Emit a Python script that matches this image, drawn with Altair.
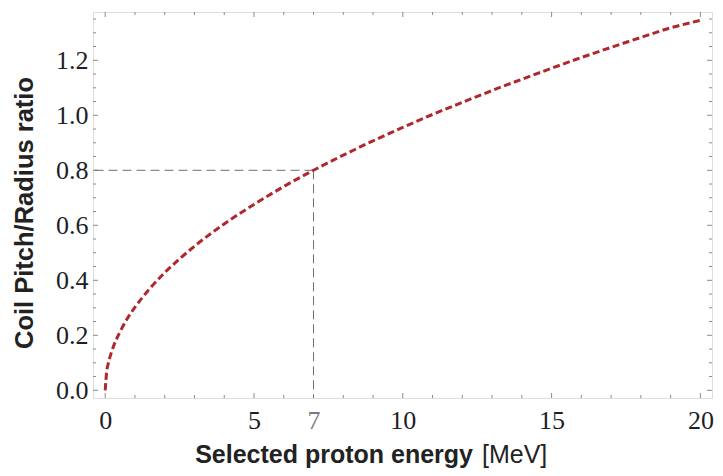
import altair as alt
import pandas as pd

# Curve values
energy = [0, 0.05, 0.1, 0.2, 0.3, 0.5, 0.75, 1, 1.5, 2, 2.5, 3, 4, 5, 6, 7,
          8, 9, 10, 11, 12, 13, 14, 15, 16, 17, 18, 19, 20]
ratio = [0, 0.068, 0.096, 0.135, 0.166, 0.213, 0.262, 0.302, 0.37, 0.428, 0.478,
         0.524, 0.605, 0.676, 0.741, 0.80, 0.855, 0.907, 0.956, 1.003, 1.047,
         1.09, 1.131, 1.171, 1.21, 1.247, 1.283, 1.318, 1.345]

# Marked point
mark_energy = 7
mark_ratio = 0.8

# Tick values
x_labels = [0, 5, 7, 10, 15, 20]
x_major = [0, 5, 10, 15, 20]
x_minor = [1, 2, 3, 4, 6, 7, 8, 9, 11, 12, 13, 14, 16, 17, 18, 19]
y_major = [0.0, 0.2, 0.4, 0.6, 0.8, 1.0, 1.2]
y_minor = [0.05, 0.1, 0.15, 0.25, 0.3, 0.35, 0.45, 0.5, 0.55, 0.65, 0.7, 0.75,
           0.85, 0.9, 0.95, 1.05, 1.1, 1.15, 1.25, 1.3, 1.35]

x_domain = [-0.41, 20.39]
y_domain = [-0.028, 1.3756]

W, H = 619, 386

curve = pd.DataFrame({"e": energy, "r": ratio})

xs = alt.Scale(domain=x_domain, nice=False, zero=False)
ys = alt.Scale(domain=y_domain, nice=False, zero=False)

LABEL_FONT = "Liberation Serif"
TICK_COLOR = "#8a8a8a"

x_axis = alt.Axis(values=x_labels, ticks=False, domain=False, grid=False,
                  labelFont=LABEL_FONT, labelFontSize=26, labelPadding=9,
                  labelOverlap=False, labelFlush=False,
                  labelColor={"condition": {"test": "datum.value == 7", "value": "#7a7a7a"},
                              "value": "#1e1e28"},
                  title=None)
y_axis = alt.Axis(values=y_major, ticks=False, domain=False, grid=False,
                  labelFont=LABEL_FONT, labelFontSize=26, labelPadding=5,
                  labelColor="#1e1e28", format=".1f", labelOverlap=False,
                  title=None)

line = alt.Chart(curve).mark_line(
    color="#b0282e", strokeWidth=3, strokeDash=[7, 3.5], interpolate="monotone"
).encode(
    x=alt.X("e:Q", scale=xs, axis=x_axis),
    y=alt.Y("r:Q", scale=ys, axis=y_axis),
)

guide_style = dict(color="#6e6e6e", strokeWidth=1, strokeDash=[9, 5])
hguide = alt.Chart().mark_rule(**guide_style).encode(
    x=alt.X(datum=mark_energy, scale=xs),
    x2=alt.value(0),
    y=alt.Y(datum=mark_ratio, scale=ys),
)
vguide = alt.Chart().mark_rule(**guide_style).encode(
    x=alt.X(datum=mark_energy, scale=xs),
    y=alt.Y(datum=mark_ratio, scale=ys),
    y2=alt.value(H),
)


def xticks(vals, length, top):
    df = pd.DataFrame({"v": vals})
    if top:
        y0, y1 = 0, length
    else:
        y0, y1 = H, H - length
    return alt.Chart(df).mark_rule(color=TICK_COLOR, strokeWidth=1).encode(
        x=alt.X("v:Q", scale=xs), y=alt.value(y0), y2=alt.value(y1))


def yticks(vals, length, right):
    df = pd.DataFrame({"v": vals})
    if right:
        x0, x1 = W, W - length
    else:
        x0, x1 = 0, length
    return alt.Chart(df).mark_rule(color=TICK_COLOR, strokeWidth=1).encode(
        y=alt.Y("v:Q", scale=ys), x=alt.value(x0), x2=alt.value(x1))


tick_layers = [
    xticks(x_major, 5, False), xticks(x_minor, 3, False),
    xticks(x_major, 5, True), xticks(x_minor, 3, True),
    yticks(y_major, 5, False), yticks(y_minor, 3, False),
    yticks(y_major, 5, True), yticks(y_minor, 3, True),
]

xtitle_bold = alt.Chart().mark_text(
    text="Selected proton energy", font="Liberation Sans", fontWeight="bold",
    fontSize=25, align="right", baseline="alphabetic", color="#222222"
).encode(x=alt.value(380), y=alt.value(451))
xtitle_unit = alt.Chart().mark_text(
    text="[MeV]", font="Liberation Sans", fontWeight="normal",
    fontSize=25, align="left", baseline="alphabetic", color="#222222"
).encode(x=alt.value(389), y=alt.value(451))
ytitle = alt.Chart().mark_text(
    text="Coil Pitch/Radius ratio", font="Liberation Sans", fontWeight="bold",
    fontSize=25.5, align="center", baseline="alphabetic", angle=270, color="#222222"
).encode(x=alt.value(-60), y=alt.value(201))

chart = alt.layer(
    *tick_layers, hguide, vguide, line, xtitle_bold, xtitle_unit, ytitle
).properties(
    width=W, height=H,
    autosize=alt.AutoSizeParams(type="none"),
    padding={"left": 85, "top": 4, "right": 3, "bottom": 70},
).configure_view(
    stroke=TICK_COLOR, strokeWidth=1
).configure(background="white")

chart.save("out.html", embed_options={"renderer": "svg", "actions": False})
